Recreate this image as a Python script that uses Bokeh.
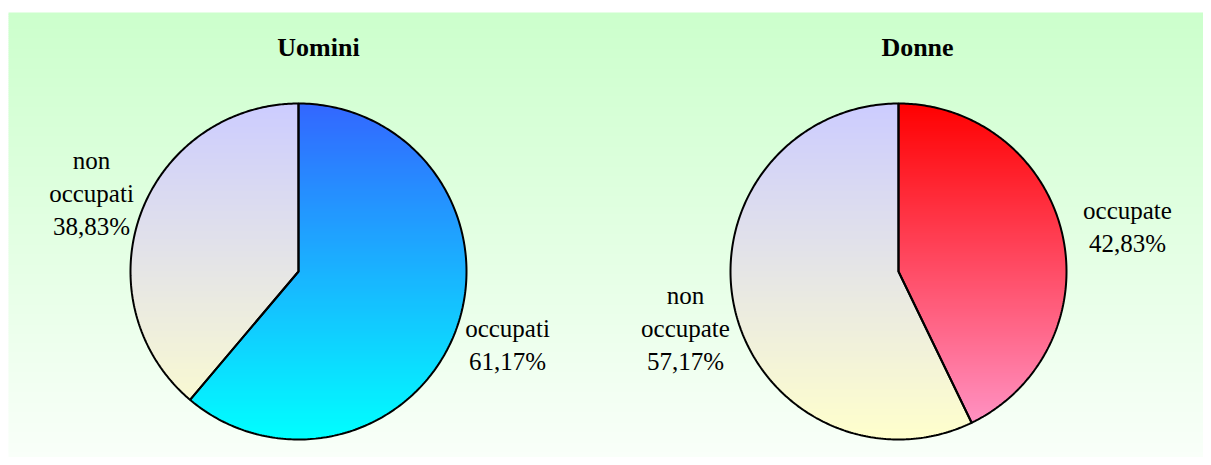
import numpy as np
from bokeh.plotting import figure
from bokeh.models import Range1d
from bokeh.core.properties import value
from bokeh.embed import file_html
from bokeh.resources import INLINE

# ---- data ----
titles = ["Uomini", "Donne"]
uomini_labels = ["occupati", "non occupati"]
uomini_values = [61.17, 38.83]
donne_labels = ["occupate", "non occupate"]
donne_values = [42.83, 57.17]

# ---- layout / style ----
W, H = 1203, 457
OX, OY = 0, 0
R = 168
centers = [(298, 271), (898, 271)]
title_pos = [(318, 47), (917, 47)]
# label anchor (center x, center y) per slice
label_pos = [[(507, 344), (91, 193)], [(1127, 226), (685, 328)]]
line_gap = 33
grad = [[("#3366FF", "#00FFFF"), ("#CCCCFF", "#FFFFCC")],
        [("#FF0000", "#FF99CC"), ("#CCCCFF", "#FFFFCC")]]
FONT = "Liberation Serif"

p = figure(width=W, height=H, x_range=Range1d(OX, OX + W), y_range=Range1d(OY + H, OY),
           output_backend="svg", toolbar_location=None, min_border=0)
p.axis.visible = False
p.grid.visible = False
p.outline_line_color = None
p.background_fill_color = "white"
p.border_fill_color = "white"


def hex2rgb(h):
    h = h.lstrip("#")
    return np.array([int(h[i:i + 2], 16) for i in (0, 2, 4)], dtype=float)


def mix(c0, c1, t):
    c = (1 - t) * c0 + t * c1
    return "#%02x%02x%02x" % tuple(int(round(v)) for v in c)


# ---- background gradient ----
bg_top, bg_bot = hex2rgb("#CCFFCC"), hex2rgb("#FAFFFA")
x_left, y_top, y_bot = 8, 12, OY + H
ys = np.arange(y_top, y_bot, 2)
p.quad(left=x_left, right=OX + W, top=ys, bottom=np.minimum(ys + 2.6, y_bot),
       fill_color=[mix(bg_top, bg_bot, (y - y_top) / (465 - y_top)) for y in ys],
       line_color=None)


def clip(poly, yc, keep_greater):
    out = []
    n = len(poly)
    for i in range(n):
        a = poly[i]
        b = poly[(i + 1) % n]
        ina = a[1] >= yc if keep_greater else a[1] <= yc
        inb = b[1] >= yc if keep_greater else b[1] <= yc
        if ina:
            out.append(a)
        if ina != inb:
            t = (yc - a[1]) / (b[1] - a[1])
            out.append((a[0] + t * (b[0] - a[0]), yc))
    return out


for k, (vals, labels) in enumerate([(uomini_values, uomini_labels), (donne_values, donne_labels)]):
    cx, cy = centers[k]
    total = sum(vals)
    start = 0.0
    band_xs, band_ys, band_cols = [], [], []
    outlines_x, outlines_y = [], []
    for j, v in enumerate(vals):
        end = start + v / total * 2 * np.pi
        th = np.linspace(start, end, 240)
        px = [cx] + list(cx + R * np.sin(th))
        py = [cy] + list(cy - R * np.cos(th))
        poly = list(zip(px, py))
        outlines_x.append(px)
        outlines_y.append(py)
        c0, c1 = hex2rgb(grad[k][j][0]), hex2rgb(grad[k][j][1])
        for y0 in np.arange(cy - R, cy + R, 2.0):
            piece = clip(poly, y0 - 0.4, True)
            if len(piece) < 3:
                continue
            piece = clip(piece, y0 + 2.4, False)
            if len(piece) < 3:
                continue
            band_xs.append([q[0] for q in piece])
            band_ys.append([q[1] for q in piece])
            band_cols.append(mix(c0, c1, (y0 + 1 - (cy - R)) / (2 * R)))
        # labels
        lx, ly = label_pos[k][j]
        lines = labels[j].split(" ") + [("%.2f" % v).replace(".", ",") + "%"]
        n = len(lines)
        p.text(x=[lx] * n, y=[ly + (i - (n - 1) / 2) * line_gap for i in range(n)], text=lines,
               text_font=value(FONT), text_font_size="25px", text_align="center",
               text_baseline="middle", text_color="#000000")
        start = end
    p.patches(xs=band_xs, ys=band_ys, fill_color=band_cols, line_color=None)
    p.patches(xs=outlines_x, ys=outlines_y, fill_alpha=0, line_color="#000000", line_width=2)
    tx, ty = title_pos[k]
    p.text(x=[tx], y=[ty], text=[titles[k]], text_font=value(FONT), text_font_size="26px",
           text_font_style="bold", text_align="center", text_baseline="middle", text_color="#000000")

open("out.html", "w").write(file_html(p, INLINE))
